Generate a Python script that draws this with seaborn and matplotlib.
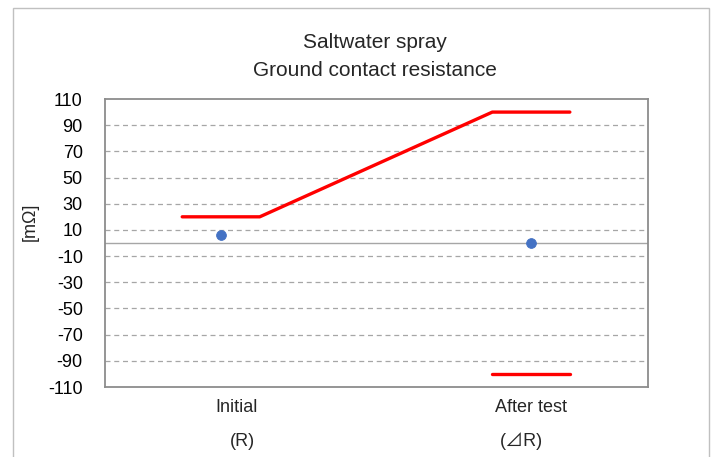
import matplotlib
matplotlib.use("Agg")
import matplotlib.pyplot as plt
import matplotlib.transforms as mtransforms
from matplotlib.patches import Rectangle
import seaborn as sns
import pandas as pd
import numpy as np

# ---- data ----
categories = ["Initial", "After test"]
sub_labels = ["(R)", "(⊿R)"]
point_x = [1.0, 2.0]
point_values = [6, 0]
# specification limit lines (x positions along the category axis, values in mΩ)
upper_x = [0.875, 1.125, 1.875, 2.125]
upper_values = [20, 20, 100, 100]
lower_x = [1.875, 2.125]
lower_values = [-100, -100]
yticks = list(range(-110, 111, 20))

sns.set_theme(style="white")
plt.rcParams['font.family'] = ['Liberation Sans', 'DejaVu Sans']

fig = plt.figure(figsize=(7.15, 4.57), dpi=100)
ax = fig.add_axes([105/715, 1-387/457, (648-105)/715, (387-99)/457])

limits = pd.DataFrame({
    "x": upper_x + lower_x,
    "y": upper_values + lower_values,
    "seg": ["upper"] * len(upper_x) + ["lower"] * len(lower_x),
})
pts = pd.DataFrame({"x": point_x, "y": point_values})

ax.axhline(0, color="#a6a6a6", lw=1.0, zorder=1)
for v in yticks[1:-1]:
    ax.axhline(v, color="#a6a6a6", lw=0.9, ls=(0, (4, 3)), zorder=0)

sns.lineplot(data=limits, x="x", y="y", units="seg", estimator=None, sort=False,
             color="#ff0000", lw=2.4, ax=ax, legend=False)
sns.scatterplot(data=pts, x="x", y="y", color="#4472c4", s=50, marker="o",
                edgecolor="#4472c4", ax=ax, legend=False, zorder=5)

ax.set_xlim(0.626, 2.377)
ax.set_ylim(-110, 110)
ax.set_yticks(yticks)
ax.set_yticklabels([str(v) for v in yticks], fontsize=13, color="black")
ax.tick_params(axis="y", length=0, pad=16)
ax.set_xticks([])
ax.set_xlabel("")
ax.set_ylabel("[mΩ]", fontsize=13)
ax.yaxis.set_label_coords((39-105)/543, (387-222)/288)
for s in ax.spines.values():
    s.set_color("#8c8c8c")
    s.set_linewidth(1.3)

trans = mtransforms.blended_transform_factory(ax.transData, fig.transFigure)
label_x = [1.05, 2.0]
sub_x = [1.07, 1.97]
for lx, c in zip(label_x, categories):
    ax.text(lx, 1-407/457, c, transform=trans, ha="center", va="center", fontsize=13)
for sx, c in zip(sub_x, sub_labels):
    ax.text(sx, 1-441/457, c, transform=trans, ha="center", va="center", fontsize=13,
            family=['Liberation Sans', 'Noto Sans CJK JP', 'DejaVu Sans'])

fig.text(375/715, 1-43/457, "Saltwater spray", ha="center", va="center", fontsize=15)
fig.text(375/715, 1-71/457, "Ground contact resistance", ha="center", va="center", fontsize=15)

fig.patches.append(Rectangle((13/715, -0.1), (709-13)/715, 1.1 - 8/457,
                             transform=fig.transFigure, fill=False,
                             edgecolor="#c0c0c0", lw=1.0))

fig.savefig("out.png", dpi=100)
